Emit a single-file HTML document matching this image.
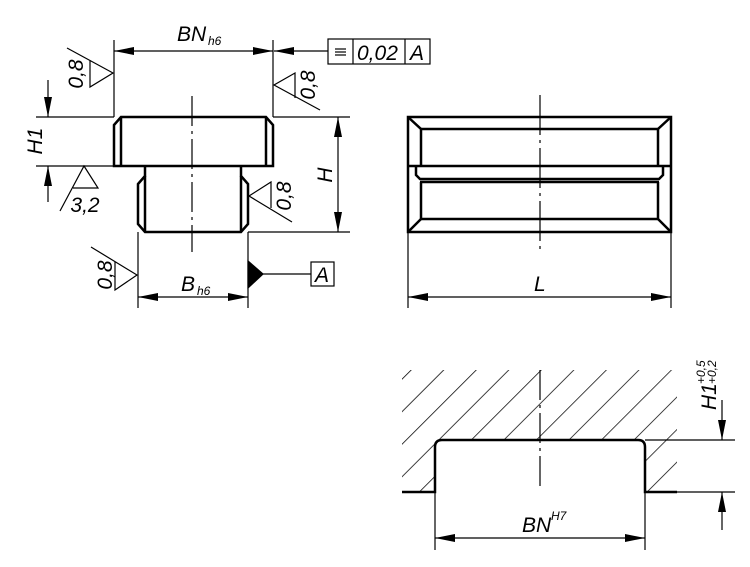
<!DOCTYPE html>
<html><head><style>body{margin:0;background:#fff}svg{display:block}text{font-family:"Liberation Sans",sans-serif;font-style:italic;fill:#000}</style></head><body>
<svg width="750" height="567" viewBox="0 0 750 567" xmlns="http://www.w3.org/2000/svg">
<defs>
<marker id="a" viewBox="0 0 20 8" refX="20" refY="4" markerWidth="20" markerHeight="8" markerUnits="userSpaceOnUse" orient="auto-start-reverse"><path d="M0,0L20,4L0,8z"/></marker>
<pattern id="h" width="23" height="23" patternUnits="userSpaceOnUse" patternTransform="rotate(45)"><line x1="0" y1="0" x2="0" y2="23" stroke="#000" stroke-width="1.5"/></pattern>
<clipPath id="c"><path d="M402,370H677V492H645V440H435V492H402Z"/></clipPath>
</defs>
<g stroke="#000" fill="none" stroke-width="1.2">
<g stroke-width="2.5">
<path d="M114,166V125L121,117H266L273,125V166Z"/>
<line x1="121" y1="117" x2="121" y2="166"/><line x1="266" y1="117" x2="266" y2="166"/>
<path d="M145,166V176L138,184V224L145,232H241L248,224V184L241,176V166"/>
<line x1="145" y1="176" x2="145" y2="232"/><line x1="241" y1="176" x2="241" y2="232"/>
</g>
<line x1="192" y1="96" x2="192" y2="252" stroke-dasharray="30,5,3,5"/>
<line x1="114" y1="40" x2="114" y2="117"/><line x1="273" y1="40" x2="273" y2="117"/>
<line x1="114" y1="51" x2="273" y2="51" marker-start="url(#a)" marker-end="url(#a)"/>
<line x1="328" y1="51" x2="274" y2="51" marker-end="url(#a)"/>
<line x1="36" y1="117" x2="114" y2="117"/><line x1="36" y1="166" x2="114" y2="166"/>
<line x1="48" y1="80" x2="48" y2="117" marker-end="url(#a)"/>
<line x1="48" y1="202" x2="48" y2="166" marker-end="url(#a)"/>
<line x1="273" y1="117" x2="350" y2="117"/><line x1="248" y1="232" x2="350" y2="232"/>
<line x1="338" y1="117" x2="338" y2="232" marker-start="url(#a)" marker-end="url(#a)"/>
<line x1="138" y1="232" x2="138" y2="308"/><line x1="248" y1="232" x2="248" y2="308"/>
<line x1="138" y1="297" x2="248" y2="297" marker-start="url(#a)" marker-end="url(#a)"/>
<path d="M248,261L263,274L248,288Z" fill="#000"/>
<line x1="263" y1="274" x2="311" y2="274"/>
<rect x="311" y="262" width="23" height="24"/>
<rect x="328" y="39" width="102" height="25"/><line x1="353" y1="39" x2="353" y2="64"/><line x1="405" y1="39" x2="405" y2="64"/>
<line x1="335" y1="49" x2="346" y2="49"/><line x1="335" y1="52" x2="346" y2="52"/><line x1="335" y1="55" x2="346" y2="55"/>
<path d="M67,48L113,73L90,87V60"/>
<path d="M320,110L274,85L295,73V98"/>
<path d="M60,211L84,166L98,188H73"/>
<path d="M292,222L249,196L271,182V208"/>
<path d="M91,247L137,275L115,290V262"/>
<g stroke-width="2.5">
<rect x="408" y="117" width="263" height="115"/>
<path d="M421,166V129H658V166M421,182V219H658V182"/>
<line x1="408" y1="117" x2="421" y2="129"/><line x1="671" y1="117" x2="658" y2="129"/>
<line x1="408" y1="232" x2="421" y2="219"/><line x1="671" y1="232" x2="658" y2="219"/>
<path d="M408,166H671M416,166V175L420,179H659L663,175V166M420,182H659"/>
</g>
<line x1="540" y1="95" x2="540" y2="252" stroke-dasharray="40,5,3,5"/>
<line x1="408" y1="232" x2="408" y2="308"/><line x1="671" y1="232" x2="671" y2="308"/>
<line x1="408" y1="297" x2="671" y2="297" marker-start="url(#a)" marker-end="url(#a)"/>
<rect x="380" y="340" width="320" height="160" fill="url(#h)" stroke="none" clip-path="url(#c)"/>
<path d="M402,492H435V447Q435,440 442,440H638Q645,440 645,447V492H677" stroke-width="2.5"/>
<line x1="540" y1="370" x2="540" y2="488" stroke-dasharray="30,5,3,5"/>
<line x1="645" y1="440" x2="735" y2="440"/><line x1="677" y1="492" x2="735" y2="492"/>
<line x1="722" y1="400" x2="722" y2="440" marker-end="url(#a)"/>
<line x1="722" y1="530" x2="722" y2="492" marker-end="url(#a)"/>
<line x1="435" y1="492" x2="435" y2="550"/><line x1="645" y1="492" x2="645" y2="550"/>
<line x1="435" y1="538" x2="645" y2="538" marker-start="url(#a)" marker-end="url(#a)"/>
</g>
<g font-size="21">
<text x="177" y="41">BN</text><text x="208" y="45" font-size="12">h6</text>
<text x="42" y="141" transform="rotate(-90 42 141)" text-anchor="middle">H1</text>
<text x="332" y="175" transform="rotate(-90 332 175)" text-anchor="middle">H</text>
<text x="181" y="291">B</text><text x="197" y="295" font-size="12">h6</text>
<text x="322" y="282" text-anchor="middle">A</text>
<text x="357" y="60">0,02</text><text x="410" y="60">A</text>
<text x="534" y="291">L</text>
<text x="83" y="74" transform="rotate(-90 83 74)" text-anchor="middle">0,8</text>
<text x="315" y="85" transform="rotate(-90 315 85)" text-anchor="middle">0,8</text>
<text x="85" y="212" text-anchor="middle">3,2</text>
<text x="291" y="196" transform="rotate(-90 291 196)" text-anchor="middle">0,8</text>
<text x="112" y="275" transform="rotate(-90 112 275)" text-anchor="middle">0,8</text>
<text x="522" y="532">BN</text><text x="551" y="520" font-size="12">H7</text>
<g transform="translate(716,410) rotate(-90)"><text x="0" y="0">H1</text><text x="26" y="-11" font-size="12">+0,5</text><text x="26" y="0" font-size="12">+0,2</text></g>
</g>
</svg>
</body></html>
